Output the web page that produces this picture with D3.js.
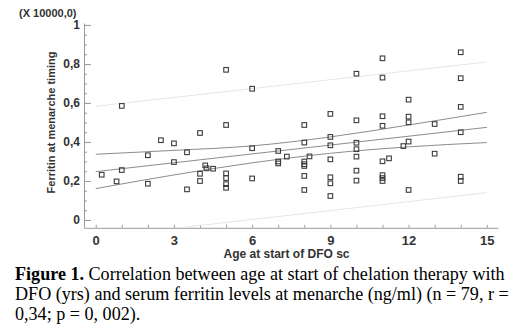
<!DOCTYPE html>
<html><head><meta charset="utf-8">
<script src="https://cdn.jsdelivr.net/npm/d3@7"></script>
<style>body{margin:0;background:#fff}svg{display:block}</style>
</head><body>
<svg id="c" width="513" height="330"></svg>
<script>
// ---- data ----
const ageStart = [0.23,0.8,1,1,2,2,2.5,3,3,3.5,3.5,4,4,4,4.2,4.25,4.5,
  5,5,5,5,5,5,6,6,6,7,7,7,7.33,8,8,8,8,8,8,8,8.2,
  9,9,9,9,9,9,9,10,10,10,10,10,10,10,
  11,11,11,11,11,11.25,11,11,11,11.8,12,12,12,12,12,13,13,14,14,14,14,14,14];
const ferritin = [0.232,0.198,0.256,0.585,0.332,0.186,0.409,0.393,0.297,0.347,0.157,0.446,0.237,0.2,0.28,0.265,0.263,
  0.77,0.487,0.239,0.215,0.184,0.165,0.673,0.368,0.213,0.354,0.30,0.29,0.325,0.487,0.397,0.30,0.286,0.277,0.226,0.154,0.326,
  0.544,0.426,0.383,0.311,0.219,0.188,0.123,0.75,0.511,0.396,0.363,0.325,0.253,0.202,
  0.829,0.73,0.532,0.483,0.301,0.316,0.23,0.215,0.2,0.379,0.617,0.53,0.501,0.402,0.154,0.492,0.34,0.86,0.727,0.58,0.45,0.222,0.2];

const fitX = [0, 15];
const fitY = [0.248, 0.475];
const bandX = [0, 3, 6, 9, 12, 15];
const upperCI = [0.337, 0.357, 0.380, 0.426, 0.487, 0.552];
const lowerCI = [0.161, 0.231, 0.293, 0.342, 0.375, 0.397];
const predX = [0, 15];
const upperPred = [0.583, 0.81];
const lowerPred = [-0.089, 0.14];

const xTickValues = d3.range(0, 16, 1);
const xTickLabels = ["0","","","3","","","6","","","9","","","12","","","15"];
const yMajorTicks = [0, 0.2, 0.4, 0.6, 0.8, 1];
const yTickLabels = ["0","0,2","0,4","0,6","0,8","1"];
const yMinorTicks = d3.range(0, 21).map(i => i * 0.05);

const xTitle = "Age at start of DFO sc";
const yTitle = "Ferritin at menarche timing";
const multiplier = "(X 10000,0)";
const captionLines = [
  [["Figure 1.", true], [" Correlation between age at start of chelation therapy with", false]],
  [["DFO (yrs) and serum ferritin levels at menarche (ng/ml) (n = 79, r =", false]],
  [["0,34; p = 0, 002).", false]]
];

// ---- drawing ----
const svg = d3.select("#c");
const x = d3.scaleLinear().domain([-0.45, 15.43]).range([84, 498]);
const y = d3.scaleLinear().domain([-0.04, 1.01]).range([227.8, 23]);
const font = "'Liberation Sans', Arial, sans-serif";
const axisCol = "#9a9a9a", textCol = "#333";

svg.append("defs").append("clipPath").attr("id", "plot")
  .append("rect").attr("x", x.range()[0]).attr("y", y.range()[1])
  .attr("width", x.range()[1] - x.range()[0]).attr("height", y.range()[0] - y.range()[1]);

// x axis
const gx = svg.append("g").attr("transform", `translate(0,${y.range()[0]})`)
  .call(d3.axisBottom(x).tickValues(xTickValues).tickSizeInner(-3).tickSizeOuter(0)
    .tickPadding(8).tickFormat((d, i) => xTickLabels[i]));
gx.select(".domain").attr("stroke", axisCol);
gx.selectAll(".tick line").attr("stroke", axisCol);
gx.selectAll(".tick text").attr("font-family", font).attr("font-weight", "bold")
  .attr("font-size", 13).attr("fill", textCol);

// y axis minor
const gyMin = svg.append("g").attr("transform", `translate(${x.range()[0]},0)`)
  .call(d3.axisLeft(y).tickValues(yMinorTicks).tickSizeInner(-3).tickSizeOuter(0).tickFormat(""));
gyMin.select(".domain").attr("stroke", axisCol);
gyMin.selectAll(".tick line").attr("stroke", axisCol);
// y axis major
const gy = svg.append("g").attr("transform", `translate(${x.range()[0]},0)`)
  .call(d3.axisLeft(y).tickValues(yMajorTicks).tickSizeInner(-7).tickSizeOuter(0)
    .tickPadding(4).tickFormat((d, i) => yTickLabels[i]));
gy.select(".domain").remove();
gy.selectAll(".tick line").attr("stroke", axisCol);
gy.selectAll(".tick text").attr("font-family", font).attr("font-weight", "bold")
  .attr("font-size", 12).attr("fill", textCol);

// lines
const plot = svg.append("g").attr("clip-path", "url(#plot)");
const line = d3.line().x(d => x(d[0])).y(d => y(d[1]));
const curve = d3.line().x(d => x(d[0])).y(d => y(d[1])).curve(d3.curveMonotoneX);
plot.append("path").attr("d", line(d3.zip(predX, upperPred))).attr("fill", "none").attr("stroke", "#e6e6e6").attr("stroke-width", 1);
plot.append("path").attr("d", line(d3.zip(predX, lowerPred))).attr("fill", "none").attr("stroke", "#e6e6e6").attr("stroke-width", 1);
plot.append("path").attr("d", curve(d3.zip(bandX, upperCI))).attr("fill", "none").attr("stroke", "#8c8c8c").attr("stroke-width", 1);
plot.append("path").attr("d", curve(d3.zip(bandX, lowerCI))).attr("fill", "none").attr("stroke", "#8c8c8c").attr("stroke-width", 1);
plot.append("path").attr("d", line(d3.zip(fitX, fitY))).attr("fill", "none").attr("stroke", "#8c8c8c").attr("stroke-width", 1);

// points
const s = 4.6;
svg.append("g").selectAll("rect").data(d3.zip(ageStart, ferritin)).join("rect")
  .attr("x", d => x(d[0]) - s / 2).attr("y", d => y(d[1]) - s / 2)
  .attr("width", s).attr("height", s)
  .attr("fill", "none").attr("stroke", "#3c3c3c").attr("stroke-width", 1.1);

// titles
svg.append("text").attr("x", 286.5).attr("y", 258).attr("text-anchor", "middle")
  .attr("font-family", font).attr("font-weight", "bold").attr("font-size", 12).attr("fill", textCol)
  .text(xTitle);
svg.append("text").attr("transform", "translate(55,122.5) rotate(-90)").attr("text-anchor", "middle")
  .attr("font-family", font).attr("font-weight", "bold").attr("font-size", 11).attr("fill", textCol)
  .text(yTitle);
svg.append("text").attr("x", 19).attr("y", 17)
  .attr("font-family", font).attr("font-weight", "bold").attr("font-size", 11).attr("fill", textCol)
  .text(multiplier);

// caption
const cap = svg.append("g");
captionLines.forEach((ln, i) => {
  const t = cap.append("text").attr("x", 15).attr("y", 280 + i * 20)
    .attr("font-family", "'Liberation Serif', 'Times New Roman', serif").attr("font-size", 18.1).attr("fill", "#000");
  ln.forEach(([str, bold]) => t.append("tspan").attr("font-weight", bold ? "bold" : "normal").text(str));
});
</script>
</body></html>
